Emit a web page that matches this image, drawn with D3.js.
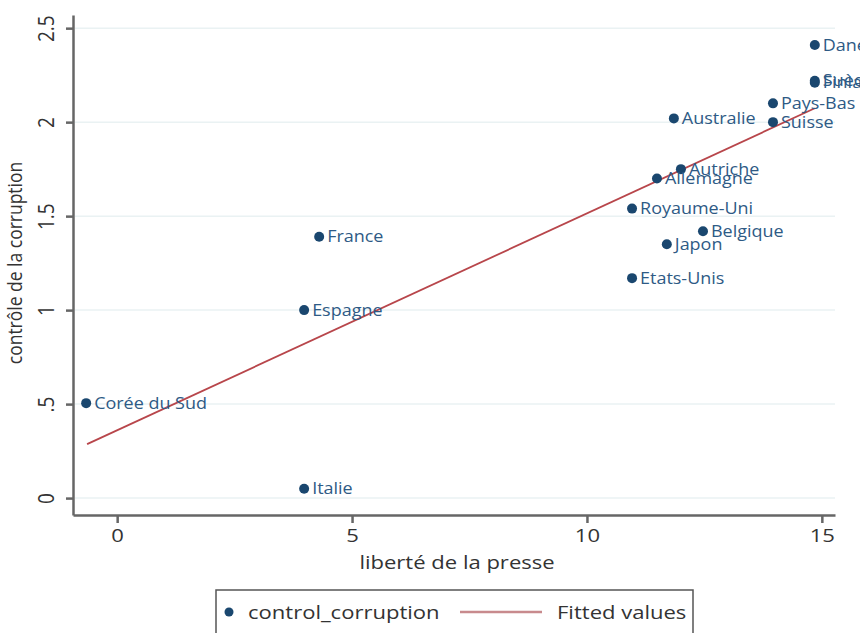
<!DOCTYPE html>
<html><head><meta charset="utf-8">
<script src="https://cdn.jsdelivr.net/npm/d3@7"></script>
<style>body{margin:0;background:#fff}svg{display:block}</style>
</head><body><svg id="c" width="860" height="633"></svg>
<script>
const countries = ["Danemark","Suède","Finlande","Pays-Bas","Suisse","Australie","Autriche","Allemagne","Royaume-Uni","Belgique","Japon","Etats-Unis","France","Espagne","Corée du Sud","Italie"];
const presse = [14.85,14.85,14.85,13.96,13.96,11.85,12.0,11.49,10.96,12.47,11.70,10.96,4.30,3.98,-0.66,3.98];
const corruption = [2.41,2.22,2.21,2.10,2.0,2.02,1.75,1.70,1.54,1.42,1.35,1.17,1.39,1.0,0.505,0.05];
const fittedX = [-0.64,14.85];
const fittedY = [0.287,2.074];
const xTicks = [0,5,10,15];
const yTicks = [0,0.5,1,1.5,2,2.5];
const yTickLabels = ["0",".5","1","1.5","2","2.5"];

const svg = d3.select("#c");
const font = "'Open Sans', sans-serif";
const blue = "#1a476f";
const sx = 1.16; // horizontal stretch of the reference glyphs
const x = d3.scaleLinear().domain([-0.94,15.28]).range([73,835]);
const y = d3.scaleLinear().domain([-0.09,2.57]).range([515,15]);

// grid
svg.append("g").selectAll("line").data(yTicks).join("line")
  .attr("x1",75).attr("x2",835).attr("y1",d=>y(d)).attr("y2",d=>y(d))
  .attr("stroke","#eaf2f3").attr("stroke-width",1.5);

// axes
const yAx = svg.append("g").attr("transform","translate(73,0)")
  .call(d3.axisLeft(y).tickValues(yTicks).tickFormat((d,i)=>yTickLabels[i]).tickSize(7).tickSizeOuter(0));
yAx.select(".domain").attr("stroke","#666").attr("stroke-width",2.5);
yAx.selectAll(".tick line").attr("stroke","#666").attr("stroke-width",2.5);
yAx.selectAll(".tick text").attr("font-family",font).attr("font-size",19).attr("fill","#333")
  .attr("text-anchor","middle").attr("x",0).attr("y",0).attr("dy","0.05em")
  .attr("transform","translate(-20,0) scale(1.1,1) rotate(-90)");

const xAx = svg.append("g").attr("transform","translate(0,515)")
  .call(d3.axisBottom(x).tickValues(xTicks).tickSize(8).tickSizeOuter(0));
xAx.select(".domain").attr("stroke","#666").attr("stroke-width",2.5);
xAx.selectAll(".tick line").attr("stroke","#666").attr("stroke-width",2.5);
xAx.selectAll(".tick text").attr("font-family",font).attr("font-size",19).attr("fill","#333").attr("y",14)
  .attr("transform",`scale(${sx},1)`);

// axis titles
svg.append("text").attr("transform",`translate(457,569) scale(${sx},1)`).attr("text-anchor","middle")
  .attr("font-family",font).attr("font-size",19).attr("fill","#333").text("liberté de la presse");
svg.append("text").attr("transform","translate(22,263) scale(1.1,1) rotate(-90)").attr("text-anchor","middle")
  .attr("font-family",font).attr("font-size",17.5).attr("fill","#333").text("contrôle de la corruption");

// fitted line
svg.append("line").attr("x1",x(fittedX[0])).attr("y1",y(fittedY[0]))
  .attr("x2",x(fittedX[1])).attr("y2",y(fittedY[1]))
  .attr("stroke","#b8464b").attr("stroke-width",1.8);

// points
const pts = svg.append("g").selectAll("g").data(countries).join("g");
pts.append("circle").attr("cx",(d,i)=>x(presse[i])).attr("cy",(d,i)=>y(corruption[i])).attr("r",5).attr("fill",blue);
pts.append("text").attr("transform",(d,i)=>`translate(${x(presse[i])+8},${y(corruption[i])}) scale(${sx},1)`)
  .attr("dy","0.36em")
  .attr("font-family",font).attr("font-size",15.5).attr("fill","#2e5a85").text(d=>d);

// legend
const lg = svg.append("g");
lg.append("rect").attr("x",216).attr("y",590).attr("width",477).attr("height",50)
  .attr("fill","#fff").attr("stroke","#555").attr("stroke-width",1.5);
lg.append("circle").attr("cx",229).attr("cy",612).attr("r",4.5).attr("fill",blue);
lg.append("text").attr("transform",`translate(248,619) scale(${sx},1)`).attr("font-family",font).attr("font-size",19).attr("fill","#333").text("control_corruption");
lg.append("line").attr("x1",460).attr("x2",542).attr("y1",612).attr("y2",612).attr("stroke","#c88a8d").attr("stroke-width",2.5);
lg.append("text").attr("transform",`translate(557,619) scale(${sx},1)`).attr("font-family",font).attr("font-size",19).attr("fill","#333").text("Fitted values");
</script></body></html>
